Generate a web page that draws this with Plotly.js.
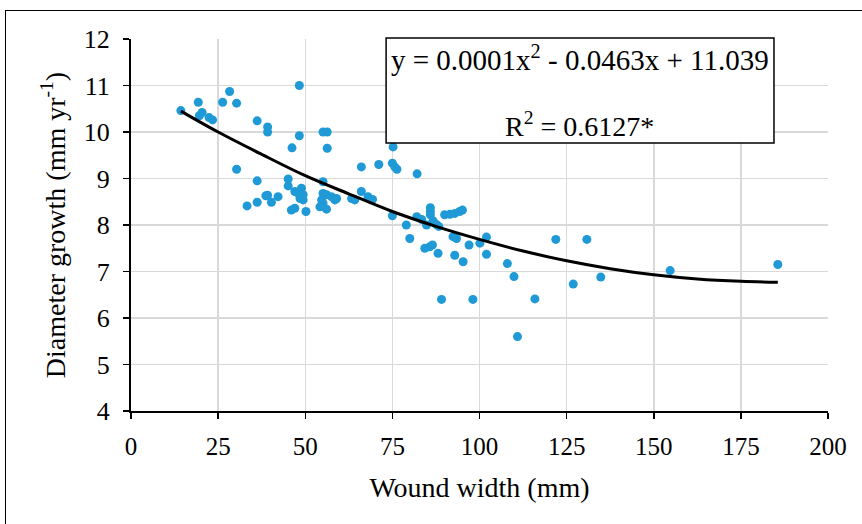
<!DOCTYPE html>
<html>
<head>
<meta charset="utf-8">
<script src="https://cdn.plot.ly/plotly-3.0.1.min.js"></script>
<style>
  html, body { margin: 0; padding: 0; background: #fff; }
  #wrap { position: relative; width: 862px; height: 524px; overflow: hidden; }
  #frame { position: absolute; left: 5px; top: 10px; width: 900px; height: 600px; border: 1.5px solid #000; box-sizing: border-box; }
  #chart { position: absolute; left: 0; top: 0; width: 862px; height: 524px; }
</style>
</head>
<body>
<div id="wrap">
  <div id="frame"></div>
  <div id="chart"></div>
</div>
<script>
// Observed data: wound width (mm) vs diameter growth (mm/yr)
const woundWidth = [
  14.3, 19.3, 19.6, 20.4, 22.4, 23.4, 26.3, 28.3, 30.3, 30.3,
  33.3, 36.2, 36.2, 36.2, 38.7, 39.2, 39.2, 39.2, 40.3, 42.2,
  45.1, 45.1, 46.0, 46.2, 47.0, 47.0, 48.0, 48.3, 48.3, 48.5,
  48.9, 49.4, 49.4, 50.2, 54.2, 54.7, 55.1, 55.1, 55.1, 55.1,
  56.3, 56.3, 56.1, 56.1, 57.5, 59.0, 58.5, 63.3, 64.2, 66.1,
  66.1, 68.0, 69.3, 71.1, 75.2, 75.0, 75.7, 76.3, 75.0, 79.0,
  80.0, 82.1, 82.0, 83.4, 84.8, 85.9, 85.9, 85.9, 86.7, 87.6,
  88.3, 84.3, 85.7, 86.5, 88.1, 89.1, 90.0, 91.5, 92.9, 94.3,
  95.1, 92.4, 93.4, 92.9, 95.3, 97.0, 98.1, 100.1, 102.0, 102.0,
  108.0, 109.9, 110.9, 115.9, 121.9, 126.9, 130.8, 134.8, 154.7, 185.6
];
const diameterGrowth = [
  10.46, 10.64, 10.35, 10.42, 10.31, 10.26, 10.64, 10.87, 10.62, 9.20,
  8.41, 10.24, 8.95, 8.49, 8.63, 8.64, 10.11, 10.00, 8.49, 8.61,
  8.99, 8.84, 8.32, 9.66, 8.36, 8.72, 8.68, 11.00, 9.92, 8.57,
  8.79, 8.65, 8.54, 8.29, 8.39, 8.54, 8.47, 8.93, 8.68, 10.00,
  10.00, 9.65, 8.65, 8.34, 8.61, 8.57, 8.54, 8.57, 8.54, 9.25,
  8.72, 8.61, 8.55, 9.30, 9.68, 9.33, 9.25, 9.20, 8.20, 8.00,
  7.71, 9.10, 8.18, 8.12, 8.00, 8.37, 8.29, 8.22, 8.09, 8.01,
  7.97, 7.50, 7.53, 7.57, 7.39, 6.40, 8.22, 8.23, 8.25, 8.29,
  8.32, 7.75, 7.71, 7.35, 7.21, 7.57, 6.40, 7.61, 7.74, 7.37,
  7.17, 6.89, 5.60, 6.41, 7.69, 6.73, 7.69, 6.88, 7.02, 7.15
];
// Trendline
const trendX = [14.3, 25, 37.5, 50, 62.5, 75, 87.5, 100, 112.5, 125, 137.5, 150, 162.5, 175, 185.6];
const trendY = [10.45, 10.0, 9.52, 9.06, 8.67, 8.29, 7.97, 7.69, 7.44, 7.23, 7.06, 6.93, 6.84, 6.79, 6.77];

const xTicks = [0, 25, 50, 75, 100, 125, 150, 175, 200];
const yTicks = [4, 5, 6, 7, 8, 9, 10, 11, 12];

const equationText = 'y = 0.0001x<sup>2</sup> - 0.0463x + 11.039';
const r2Text = 'R<sup>2</sup> = 0.6127*';

const serif = 'Liberation Serif, Times New Roman, serif';

const traces = [
  {
    x: woundWidth, y: diameterGrowth, type: 'scatter', mode: 'markers',
    marker: { color: '#1f9ad6', size: 9 },
    hoverinfo: 'x+y', showlegend: false
  },
  {
    x: trendX, y: trendY, type: 'scatter', mode: 'lines',
    line: { color: '#000', width: 3, shape: 'spline' },
    hoverinfo: 'skip', showlegend: false
  }
];

const layout = {
  width: 862, height: 524,
  margin: { l: 131, r: 34, t: 39, b: 113 },
  paper_bgcolor: 'rgba(0,0,0,0)',
  plot_bgcolor: 'rgba(0,0,0,0)',
  font: { family: serif, size: 24, color: '#000' },
  xaxis: {
    range: [0, 200], tickvals: xTicks, ticktext: xTicks.map(String),
    showgrid: true, gridcolor: '#d9d9d9', gridwidth: 1.5,
    showline: true, linecolor: '#000', linewidth: 2,
    ticks: 'outside', ticklen: 6, tickcolor: '#000', tickwidth: 1.5,
    ticklabelstandoff: 6,
    zeroline: false, fixedrange: true,
    tickfont: { family: serif, size: 25 },
    title: { text: 'Wound width (mm)', font: { family: serif, size: 28 }, standoff: 18 }
  },
  yaxis: {
    range: [4, 12], tickvals: yTicks, ticktext: yTicks.map(String),
    showgrid: true, gridcolor: '#d9d9d9', gridwidth: 1.5,
    showline: true, linecolor: '#000', linewidth: 2,
    ticks: 'outside', ticklen: 6, tickcolor: '#000', tickwidth: 1.5,
    ticklabelstandoff: 8,
    zeroline: false, fixedrange: true,
    tickfont: { family: serif, size: 26 },
    title: { text: 'Diameter growth (mm yr<sup>-1</sup>)', font: { family: serif, size: 28 }, standoff: 10 }
  },
  shapes: [
    { type: 'rect', xref: 'paper', yref: 'paper', x0: 0.366, x1: 0.9225, y0: 0.7204, y1: 1.0027,
      line: { color: '#000', width: 1.5 }, fillcolor: '#fff', layer: 'above' }
  ],
  annotations: [
    { xref: 'paper', yref: 'paper', x: 0.644, y: 0.948, text: equationText, showarrow: false,
      font: { family: serif, size: 29, color: '#000' }, xanchor: 'center', yanchor: 'middle' },
    { xref: 'paper', yref: 'paper', x: 0.644, y: 0.770, text: r2Text, showarrow: false,
      font: { family: serif, size: 28, color: '#000' }, xanchor: 'center', yanchor: 'middle' }
  ]
};

Plotly.newPlot('chart', traces, layout, { displayModeBar: false, staticPlot: true });
</script>
</body>
</html>
